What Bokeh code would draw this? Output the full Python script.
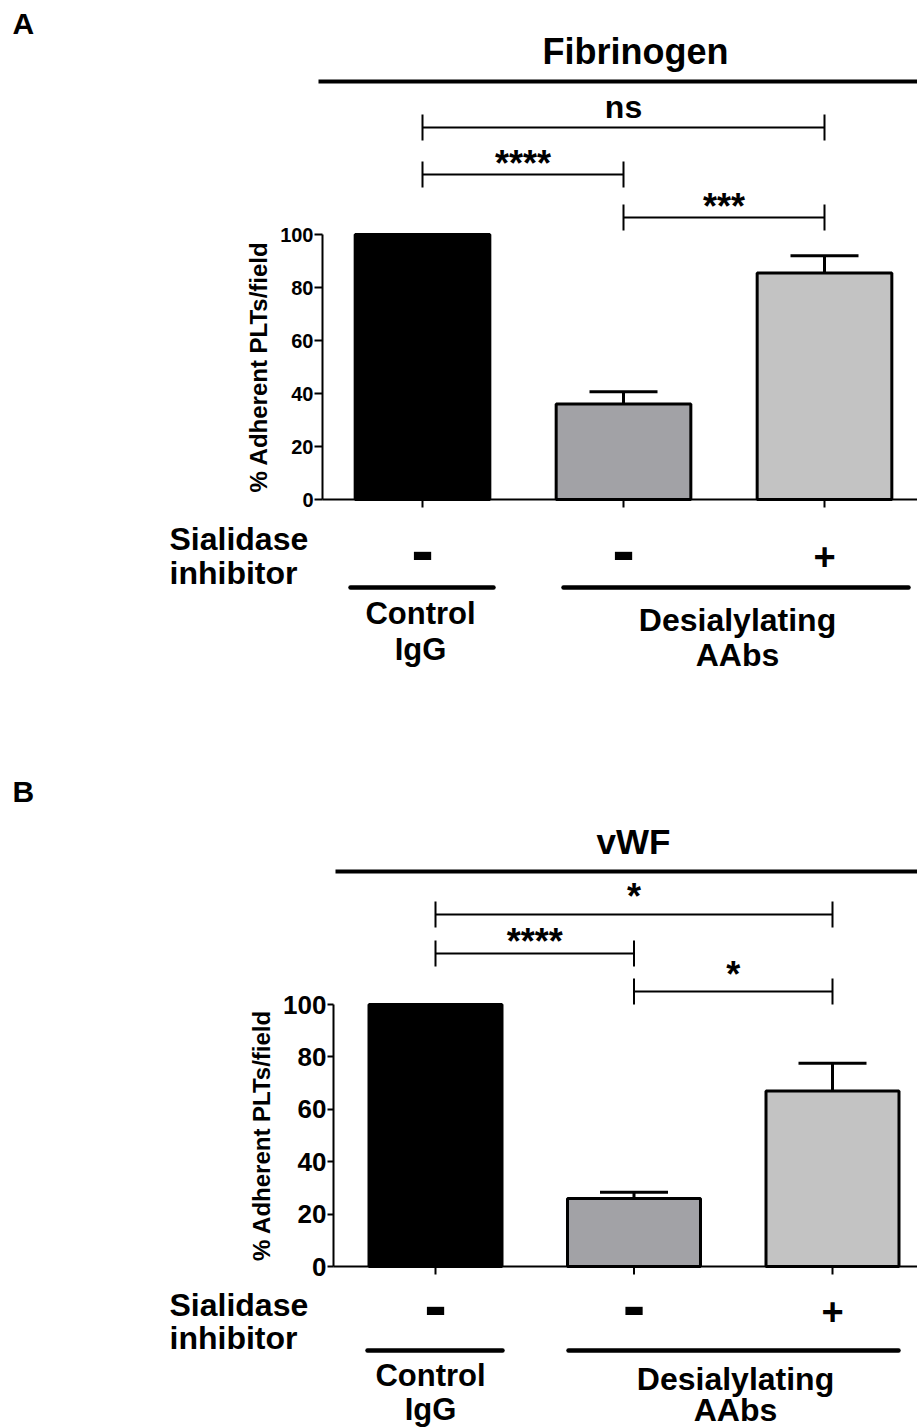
from bokeh.plotting import figure
from bokeh.models import Range1d, LinearAxis, FixedTicker, ColumnDataSource, CanvasTexture
from bokeh.layouts import column
from bokeh.core.properties import value
from bokeh.embed import file_html
from bokeh.resources import INLINE

# ---------------- data ----------------
conditions = ["Control IgG / inhibitor -", "Desialylating AAbs / inhibitor -", "Desialylating AAbs / inhibitor +"]
inhibitor = ["-", "-", "+"]
group_labels = ["Control\nIgG", "Desialylating\nAAbs"]
fib_mean = [100.0, 36.0, 85.5]
fib_err = [0.0, 4.7, 6.5]
vwf_mean = [100.0, 26.0, 67.0]
vwf_err = [0.0, 2.3, 10.6]
y_ticks = [0, 20, 40, 60, 80, 100]
sig_pairs = [(0, 2), (0, 1), (1, 2)]
fib_sig = ["ns", "****", "***"]
vwf_sig = ["*", "****", "*"]
y_label = "% Adherent PLTs/field"
side_label = ["Sialidase", "inhibitor"]

# ---------------- style ----------------
FONT_NAME = "Liberation Sans"
FONT = value(FONT_NAME)
W = 917
BAR_W = 0.67
BAR_FILLS = ["black", "#a2a2a6", "white"]
BAR_HATCH = [" ", " ", "checker"]
CHECKER = CanvasTexture(
    code="ctx.fillStyle = '#777777'; var h = scale / 2; ctx.fillRect(0, 0, h, h); ctx.fillRect(h, h, h, h);",
    repetition="repeat")
BASE_SHIFT = 0.34  # svg text baseline correction (fraction of font size)

PANELS = [
    dict(cx0=422, sx=201.0, base=499, sy=2.65, top=0, height=764, axis_px=322,
         letter="A", letter_pos=(12, 33), title="Fibrinogen", title_pos=(635, 63), title_size=36,
         title_line=(318, 917, 81), bracket_py=[127, 174, 217], sig_center_py=[117, 158, 201],
         tick_font="20px", tick_out=8, label_standoff=5,
         side_pos=(169, 549, 583), sign_center=(556, 556),
         group_lines=[(350, 493, 587), (563, 908, 587)],
         group_text=[(420, 624, 660), (737, 630, 665)]),
    dict(cx0=435, sx=198.5, base=1266, sy=2.62, top=764, height=664, axis_px=333,
         letter="B", letter_pos=(12, 801), title="vWF", title_pos=(633, 853), title_size=35,
         title_line=(335, 917, 871), bracket_py=[914, 953, 991], sig_center_py=[891, 936, 969],
         tick_font="26px", tick_out=6, label_standoff=5,
         side_pos=(169, 1315, 1348), sign_center=(1311, 1311),
         group_lines=[(367, 502, 1350), (568, 898, 1350)],
         group_text=[(430, 1386, 1420), (735, 1389, 1420)]),
]


def build(cfg, means, errs, sigs):
    cx0, sx, base, sy = cfg["cx0"], cfg["sx"], cfg["base"], cfg["sy"]

    def X(px):
        return (px - cx0) / sx

    def Y(py):
        return (base - py) / sy

    def T(x, base_py, s, size, align="center"):
        # x in data units, base_py = desired alphabetic baseline in page pixels
        p.text(x=[x], y=[Y(base_py - BASE_SHIFT * size)], text=[s], text_font=FONT,
               text_font_style="bold", text_font_size=value(f"{size}px"),
               text_align=align, text_baseline="alphabetic", text_color="black")

    top, h = cfg["top"], cfg["height"]
    p = figure(width=W, height=h, x_range=Range1d(X(0), X(W)),
               y_range=Range1d(Y(top + h), Y(top)), x_axis_type=None, y_axis_type=None,
               output_backend="svg", toolbar_location=None, min_border=0,
               outline_line_color=None, background_fill_color="white",
               border_fill_color="white")

    xs = list(range(len(means)))

    # error bars (upper only)
    ex = [x for x, e in zip(xs, errs) if e > 0]
    ey0 = [m for m, e in zip(means, errs) if e > 0]
    ey1 = [m + e for m, e in zip(means, errs) if e > 0]
    cap = 34 / sx
    p.segment(x0=ex, y0=ey0, x1=ex, y1=ey1, line_color="black", line_width=3)
    p.segment(x0=[x - cap for x in ex], y0=ey1, x1=[x + cap for x in ex], y1=ey1,
              line_color="black", line_width=3)

    # bars
    src = ColumnDataSource(dict(x=xs, top=means, fill=BAR_FILLS, hatch=BAR_HATCH))
    p.vbar(x="x", top="top", bottom=0, width=BAR_W, source=src, fill_color="fill",
           line_color="black", line_width=3, hatch_pattern="hatch", hatch_color="#777777",
           hatch_scale=8, hatch_weight=1, hatch_extra={"checker": CHECKER})

    # axes
    yax = LinearAxis(ticker=FixedTicker(ticks=y_ticks), bounds=(0, 100),
                     fixed_location=X(cfg["axis_px"]), axis_label=y_label,
                     axis_label_text_font=FONT_NAME, axis_label_text_font_style="bold",
                     axis_label_text_font_size="24px", axis_label_standoff=cfg["label_standoff"],
                     axis_label_text_color="black",
                     major_label_text_font=FONT_NAME, major_label_text_font_style="bold",
                     major_label_text_font_size=cfg["tick_font"], major_label_standoff=1,
                     major_label_text_color="black",
                     major_tick_out=cfg["tick_out"], major_tick_in=0, minor_tick_out=0,
                     minor_tick_in=0, axis_line_width=2, major_tick_line_width=2,
                     axis_line_color="black", major_tick_line_color="black")
    p.add_layout(yax, "left")
    xax = LinearAxis(ticker=FixedTicker(ticks=[]), bounds=(X(cfg["axis_px"]), X(W)),
                     fixed_location=0, major_tick_out=0, major_tick_in=0, minor_tick_out=0,
                     minor_tick_in=0, axis_line_width=2, axis_line_color="black")
    p.add_layout(xax, "below")
    # category tick marks at bar centres
    p.segment(x0=xs, y0=[0] * len(xs), x1=xs, y1=[-8 / sy] * len(xs),
              line_color="black", line_width=2)

    # panel letter and title
    lx, ly = cfg["letter_pos"]
    T(X(lx), ly, cfg["letter"], 30, align="left")
    tx, ty = cfg["title_pos"]
    T(X(tx), ty, cfg["title"], cfg["title_size"])
    a, b, yl = cfg["title_line"]
    p.segment(x0=[X(a)], y0=[Y(yl)], x1=[X(b)], y1=[Y(yl)], line_color="black", line_width=4)

    # significance brackets
    tick = 13 / sy
    for (i, j), s, by, cy in zip(sig_pairs, sigs, cfg["bracket_py"], cfg["sig_center_py"]):
        yb = Y(by)
        p.segment(x0=[i, i, j], y0=[yb, yb - tick, yb - tick], x1=[j, i, j],
                  y1=[yb, yb + tick, yb + tick], line_color="black", line_width=2)
        if s == "ns":
            T((i + j) / 2, cy, s, 32)            # cy is the baseline for "ns"
        else:
            T((i + j) / 2, cy + 17, s, 36)       # asterisk centre ~0.47em above baseline

    # bottom annotations
    sxp, s1, s2 = cfg["side_pos"]
    T(X(sxp), s1, side_label[0], 32, align="left")
    T(X(sxp), s2, side_label[1], 32, align="left")
    for i, s in enumerate(inhibitor):
        if s == "-":
            T(i, cfg["sign_center"][0] + 17, s, 68)
        else:
            T(i, cfg["sign_center"][1] + 13, s, 38)
    for (a, b, yl) in cfg["group_lines"]:
        p.segment(x0=[X(a)], y0=[Y(yl)], x1=[X(b)], y1=[Y(yl)], line_color="black",
                  line_width=4.5, line_cap="round")
    for lab, (gx, b1, b2) in zip(group_labels, cfg["group_text"]):
        l1, l2 = lab.split("\n")
        T(X(gx), b1, l1, 32 if l1 != "Control" else 31)
        T(X(gx), b2, l2, 32 if l2 != "IgG" else 31)
    return p


pA = build(PANELS[0], fib_mean, fib_err, fib_sig)
pB = build(PANELS[1], vwf_mean, vwf_err, vwf_sig)
layout = column(pA, pB, spacing=0)
open("out.html", "w").write(file_html(layout, INLINE, title="Platelet adhesion"))
